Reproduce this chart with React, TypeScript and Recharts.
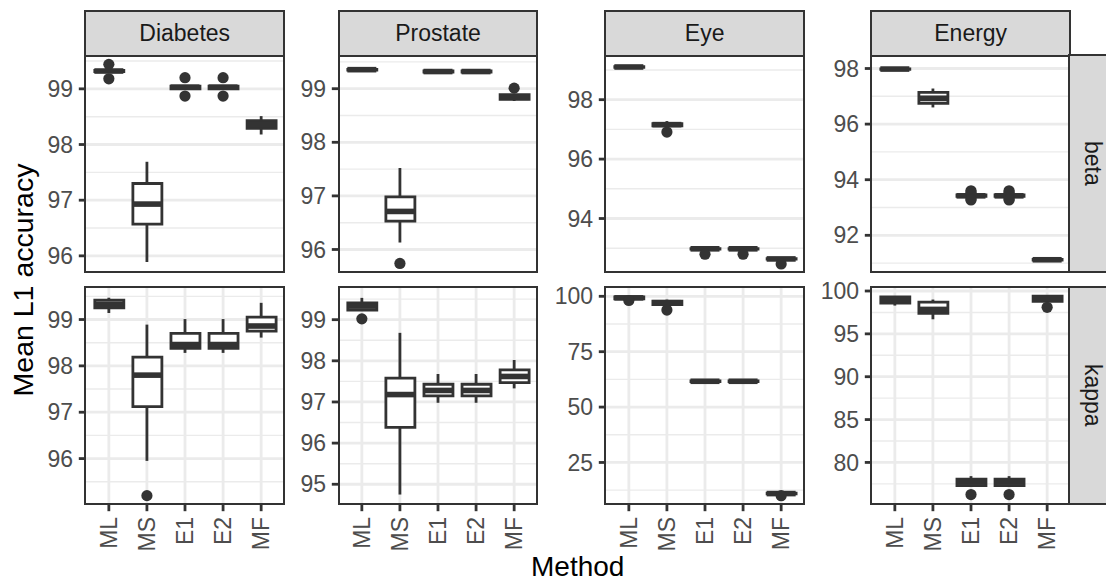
import React from 'react';
import { ComposedChart, Bar, Scatter, ErrorBar, XAxis, YAxis, CartesianGrid } from 'recharts';

const FONT = '"Liberation Sans", Arial, Helvetica, sans-serif';
const INK = '#333333';
const GRID = '#EBEBEB';

const methods = ['ML', 'MS', 'E1', 'E2', 'MF'];
const datasets = ['Diabetes', 'Prostate', 'Eye', 'Energy'];
const params = ['beta', 'kappa'];

// per method: [lower whisker, q1, median, q3, upper whisker]
const diabetesBeta = [
  [99.31, 99.31, 99.32, 99.33, 99.33],
  [95.89, 96.57, 96.93, 97.3, 97.69],
  [99.0, 99.0, 99.03, 99.05, 99.05],
  [99.0, 99.0, 99.03, 99.05, 99.05],
  [98.18, 98.29, 98.36, 98.43, 98.51],
];
const diabetesBetaOut: [string, number][] = [['ML', 99.44], ['ML', 99.18], ['E1', 99.2], ['E1', 98.87], ['E2', 99.2], ['E2', 98.87]];
const diabetesBetaTicks = [96, 97, 98, 99];
const diabetesBetaLim = [95.71, 99.59];

const prostateBeta = [
  [99.345, 99.345, 99.355, 99.36, 99.36],
  [96.13, 96.53, 96.71, 96.98, 97.52],
  [99.31, 99.31, 99.32, 99.33, 99.33],
  [99.31, 99.31, 99.32, 99.33, 99.33],
  [98.77, 98.8, 98.84, 98.89, 98.89],
];
const prostateBetaOut: [string, number][] = [['MS', 95.74], ['MF', 99.01]];
const prostateBetaTicks = [96, 97, 98, 99];
const prostateBetaLim = [95.58, 99.61];

const eyeBeta = [
  [99.09, 99.09, 99.1, 99.11, 99.11],
  [97.12, 97.12, 97.16, 97.19, 97.28],
  [92.97, 92.97, 92.98, 92.99, 92.99],
  [92.97, 92.97, 92.98, 92.99, 92.99],
  [92.63, 92.63, 92.64, 92.65, 92.65],
];
const eyeBetaOut: [string, number][] = [['MS', 96.91], ['E1', 92.8], ['E2', 92.8], ['MF', 92.47]];
const eyeBetaTicks = [94, 96, 98];
const eyeBetaLim = [92.2, 99.47];

const energyBeta = [
  [97.97, 97.97, 97.98, 97.99, 97.99],
  [96.6, 96.75, 96.93, 97.14, 97.28],
  [93.4, 93.4, 93.42, 93.45, 93.45],
  [93.4, 93.4, 93.42, 93.45, 93.45],
  [91.11, 91.11, 91.12, 91.13, 91.13],
];
const energyBetaOut: [string, number][] = [
  ['E1', 93.6], ['E1', 93.55], ['E1', 93.31], ['E1', 93.27],
  ['E2', 93.6], ['E2', 93.55], ['E2', 93.31], ['E2', 93.27],
];
const energyBetaTicks = [92, 94, 96, 98];
const energyBetaLim = [90.68, 98.45];

const diabetesKappa = [
  [99.14, 99.25, 99.33, 99.42, 99.47],
  [95.95, 97.12, 97.8, 98.19, 98.89],
  [98.28, 98.38, 98.46, 98.7, 99.01],
  [98.28, 98.38, 98.46, 98.7, 99.01],
  [98.61, 98.75, 98.86, 99.05, 99.36],
];
const diabetesKappaOut: [string, number][] = [['MS', 95.2]];
const diabetesKappaTicks = [96, 97, 98, 99];
const diabetesKappaLim = [95.02, 99.68];

const prostateKappa = [
  [99.23, 99.23, 99.33, 99.41, 99.53],
  [94.75, 96.38, 97.18, 97.58, 98.68],
  [96.98, 97.15, 97.28, 97.43, 97.68],
  [96.98, 97.15, 97.28, 97.43, 97.68],
  [97.33, 97.47, 97.62, 97.78, 98.02],
];
const prostateKappaOut: [string, number][] = [['ML', 99.02]];
const prostateKappaTicks = [95, 96, 97, 98, 99];
const prostateKappaLim = [94.52, 99.77];

const eyeKappa = [
  [98.5, 98.9, 99.3, 99.7, 99.9],
  [96.0, 96.3, 97.1, 97.8, 98.5],
  [61.5, 61.5, 61.65, 61.8, 61.8],
  [61.5, 61.5, 61.65, 61.8, 61.8],
  [10.8, 10.8, 10.95, 11.1, 11.1],
];
const eyeKappaOut: [string, number][] = [['ML', 98.1], ['MS', 93.8], ['MF', 10.0]];
const eyeKappaTicks = [25, 50, 75, 100];
const eyeKappaLim = [6.25, 103.75];

const energyKappa = [
  [98.3, 98.6, 99.0, 99.3, 99.3],
  [96.7, 97.4, 97.85, 98.7, 99.0],
  [77.3, 77.3, 77.7, 78.05, 78.4],
  [77.3, 77.3, 77.7, 78.05, 78.4],
  [98.8, 98.8, 99.1, 99.4, 99.4],
];
const energyKappaOut: [string, number][] = [['E1', 76.25], ['E2', 76.25], ['MF', 98.1]];
const energyKappaTicks = [80, 85, 90, 95, 100];
const energyKappaLim = [75.15, 100.35];

// layout (px)
const COL_LEFT = [85.7, 339, 605.7, 871.7];
const ROW_TOP = [55.7, 287.6];
const PANEL_W = 198;
const PANEL_H = 216;
const AXIS_W = 70;
const XAXIS_H = 80;
const TOP_PAD = 16;
const STRIP_TOP = 11;
const STRIP_H = 44.7;
const BOX_W = 29;
const LW = 2.8;

const panels = [
  [diabetesBeta, diabetesBetaOut, diabetesBetaTicks, diabetesBetaLim],
  [prostateBeta, prostateBetaOut, prostateBetaTicks, prostateBetaLim],
  [eyeBeta, eyeBetaOut, eyeBetaTicks, eyeBetaLim],
  [energyBeta, energyBetaOut, energyBetaTicks, energyBetaLim],
  [diabetesKappa, diabetesKappaOut, diabetesKappaTicks, diabetesKappaLim],
  [prostateKappa, prostateKappaOut, prostateKappaTicks, prostateKappaLim],
  [eyeKappa, eyeKappaOut, eyeKappaTicks, eyeKappaLim],
  [energyKappa, energyKappaOut, energyKappaTicks, energyKappaLim],
] as [number[][], [string, number][], number[], number[]][];

const toRows = (stats: number[][]) =>
  stats.map(([lo, q1, med, q3, hi], i) => ({
    pos: i + 1,
    q1,
    med,
    q3,
    box: [q1, q3],
    up: [0, hi - q3],
    dn: [q1 - lo, 0],
  }));

const minorBreaks = (t: number[], lim: number[]) => {
  const step = t[1] - t[0];
  const ext = [t[0] - step, ...t, t[t.length - 1] + step];
  return ext.slice(1).map((v, i) => (v + ext[i]) / 2).filter((v) => v > lim[0] && v < lim[1]);
};

const BoxShape = (p: any) => {
  const top = Math.min(p.y, p.y + p.height);
  const h = Math.abs(p.height);
  return (
    <path
      d={`M${p.x},${top}H${p.x + p.width}V${top + h}H${p.x}Z`}
      fill="#fff"
      stroke={INK}
      strokeWidth={LW}
    />
  );
};

const MedianShape = (p: any) => (
  <line x1={p.cx - BOX_W / 2} x2={p.cx + BOX_W / 2} y1={p.cy} y2={p.cy} stroke={INK} strokeWidth={LW * 2} />
);

const Hidden = () => <g />;

const Dot = (p: any) => <circle cx={p.cx} cy={p.cy} r={5.6} fill={INK} />;

const MethodTick = (p: any) => (
  <text
    x={p.x}
    y={p.y}
    transform={`rotate(-90, ${p.x}, ${p.y})`}
    textAnchor="end"
    dominantBaseline="central"
    fill="#4D4D4D"
    fontSize={23}
    fontFamily={FONT}
  >
    {methods[p.payload.value - 1]}
  </text>
);

const Panel = ({ idx }: { idx: number }) => {
  const [stats, out, ticks, lim] = panels[idx];
  const bottom = idx >= 4;
  const rows = toRows(stats);
  const outRows = out.map(([m, v]) => ({ pos: methods.indexOf(m) + 1, v }));
  return (
    <ComposedChart
      width={AXIS_W + PANEL_W}
      height={TOP_PAD + PANEL_H + (bottom ? XAXIS_H : 0)}
      data={rows}
      margin={{ top: TOP_PAD, right: 0, bottom: 0, left: 0 }}
    >
      <CartesianGrid stroke={GRID} strokeWidth={LW / 2} horizontalValues={minorBreaks(ticks, lim)} vertical={false} />
      <CartesianGrid stroke={GRID} strokeWidth={LW} horizontalValues={ticks} verticalValues={[1, 2, 3, 4, 5]} />
      {bottom ? (
        <XAxis
          dataKey="pos"
          type="number"
          domain={[0.4, 5.6]}
          allowDataOverflow
          ticks={[1, 2, 3, 4, 5]}
          interval={0}
          height={XAXIS_H}
          axisLine={false}
          tickLine={{ stroke: INK, strokeWidth: LW }}
          tickSize={7.2}
          tickMargin={5.7}
          tick={<MethodTick />}
        />
      ) : (
        <XAxis
          dataKey="pos"
          type="number"
          domain={[0.4, 5.6]}
          allowDataOverflow
          ticks={[1, 2, 3, 4, 5]}
          height={0}
          axisLine={false}
          tickLine={false}
          tick={false}
        />
      )}
      <YAxis
        type="number"
        domain={lim}
        allowDataOverflow
        ticks={ticks}
        interval={0}
        width={AXIS_W}
        axisLine={false}
        tickLine={{ stroke: INK, strokeWidth: LW }}
        tickSize={7.2}
        tickMargin={5.7}
        tick={{ fill: '#4D4D4D', fontSize: 23, fontFamily: FONT }}
      />
      <Bar dataKey="box" barSize={BOX_W} shape={<BoxShape />} isAnimationActive={false} />
      <Scatter dataKey="q3" shape={<Hidden />} isAnimationActive={false}>
        <ErrorBar dataKey="up" direction="y" width={0} stroke={INK} strokeWidth={LW} isAnimationActive={false} />
      </Scatter>
      <Scatter dataKey="q1" shape={<Hidden />} isAnimationActive={false}>
        <ErrorBar dataKey="dn" direction="y" width={0} stroke={INK} strokeWidth={LW} isAnimationActive={false} />
      </Scatter>
      <Scatter dataKey="med" shape={<MedianShape />} isAnimationActive={false} />
      <Scatter data={outRows} dataKey="v" shape={<Dot />} isAnimationActive={false} />
    </ComposedChart>
  );
};

export default function App() {
  return (
    <div
      style={{
        position: 'absolute',
        left: 0,
        top: 0,
        width: 1106,
        height: 583,
        overflow: 'hidden',
        background: '#fff',
        fontFamily: FONT,
      }}
    >
      {panels.map((_, idx) => {
        const col = idx % 4;
        const row = Math.floor(idx / 4);
        return (
          <div
            key={`c${idx}`}
            style={{ position: 'absolute', left: COL_LEFT[col] - AXIS_W, top: ROW_TOP[row] - TOP_PAD }}
          >
            <Panel idx={idx} />
          </div>
        );
      })}
      {panels.map((_, idx) => {
        const col = idx % 4;
        const row = Math.floor(idx / 4);
        return (
          <div
            key={`b${idx}`}
            style={{
              position: 'absolute',
              left: COL_LEFT[col] - 1.25,
              top: ROW_TOP[row] - 1.25,
              width: PANEL_W + 2.5,
              height: PANEL_H + 2.5,
              border: `2.5px solid ${INK}`,
              boxSizing: 'border-box',
              pointerEvents: 'none',
            }}
          />
        );
      })}
      {datasets.map((name, col) => (
        <div
          key={name}
          style={{
            position: 'absolute',
            left: COL_LEFT[col] - 1.25,
            top: STRIP_TOP - 1.25,
            width: PANEL_W + 2.5,
            height: STRIP_H + 2.5,
            border: `2.5px solid ${INK}`,
            boxSizing: 'border-box',
            background: '#D9D9D9',
            display: 'flex',
            alignItems: 'center',
            justifyContent: 'center',
            fontSize: 23,
            lineHeight: 1,
            color: '#1A1A1A',
          }}
        >
          {name}
        </div>
      ))}
      {params.map((name, row) => (
        <div
          key={name}
          style={{
            position: 'absolute',
            left: COL_LEFT[3] + PANEL_W - 1.25,
            top: ROW_TOP[row] - 1.25,
            width: STRIP_H + 2.5,
            height: PANEL_H + 2.5,
            border: `2.5px solid ${INK}`,
            boxSizing: 'border-box',
            background: '#D9D9D9',
            display: 'flex',
            alignItems: 'center',
            justifyContent: 'center',
            fontSize: 23,
            lineHeight: 1,
            color: '#1A1A1A',
          }}
        >
          <span style={{ writingMode: 'vertical-rl' }}>{name}</span>
        </div>
      ))}
      <div
        style={{
          position: 'absolute',
          left: 22.5,
          top: 279.6,
          transform: 'translate(-50%, -50%) rotate(-90deg)',
          whiteSpace: 'nowrap',
          fontSize: 28.5,
          lineHeight: 1,
          color: '#000',
        }}
      >
        Mean L1 accuracy
      </div>
      <div
        style={{
          position: 'absolute',
          left: 577.7,
          top: 566.5,
          transform: 'translate(-50%, -50%)',
          whiteSpace: 'nowrap',
          fontSize: 28,
          lineHeight: 0.8,
          color: '#000',
        }}
      >
        Method
      </div>
    </div>
  );
}
